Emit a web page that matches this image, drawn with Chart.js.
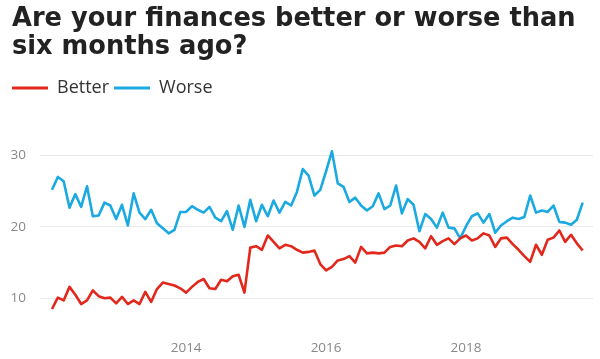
<!DOCTYPE html>
<html>
<head>
<meta charset="utf-8">
<script src="https://cdn.jsdelivr.net/npm/chart.js@4/dist/chart.umd.min.js"></script>
<style>
  html, body { margin: 0; padding: 0; background: #fff; }
  #wrap { position: relative; width: 600px; height: 359px; overflow: hidden; }
  #title {
    position: absolute; left: 12px; top: 3px; margin: 0;
    font-family: "DejaVu Sans", sans-serif; font-weight: bold;
    font-size: 25.7px; line-height: 28px; color: #222; white-space: nowrap;
  }
  #c { position: absolute; left: 0; top: 0; }
</style>
</head>
<body>
<div id="wrap">
  <canvas id="c" width="600" height="359"></canvas>
  <h1 id="title">Are your finances better or worse than<br>six months ago?</h1>
</div>
<script>
const months = [
  "2012-02","2012-03","2012-04","2012-05","2012-06","2012-07","2012-08","2012-09","2012-10","2012-11","2012-12",
  "2013-01","2013-02","2013-03","2013-04","2013-05","2013-06","2013-07","2013-08","2013-09","2013-10","2013-11","2013-12",
  "2014-01","2014-02","2014-03","2014-04","2014-05","2014-06","2014-07","2014-08","2014-09","2014-10","2014-11","2014-12",
  "2015-01","2015-02","2015-03","2015-04","2015-05","2015-06","2015-07","2015-08","2015-09","2015-10","2015-11","2015-12",
  "2016-01","2016-02","2016-03","2016-04","2016-05","2016-06","2016-07","2016-08","2016-09","2016-10","2016-11","2016-12",
  "2017-01","2017-02","2017-03","2017-04","2017-05","2017-06","2017-07","2017-08","2017-09","2017-10","2017-11","2017-12",
  "2018-01","2018-02","2018-03","2018-04","2018-05","2018-06","2018-07","2018-08","2018-09","2018-10","2018-11","2018-12",
  "2019-01","2019-02","2019-03","2019-04","2019-05","2019-06","2019-07","2019-08","2019-09"
];

const better = [
  8.5,10.1,9.7,11.6,10.5,9.2,9.7,11.1,10.3,10.0,10.1,
  9.3,10.2,9.2,9.7,9.2,10.9,9.5,11.3,12.2,12.0,11.8,11.4,
  10.8,11.6,12.3,12.7,11.4,11.3,12.6,12.4,13.1,13.3,10.8,17.1,
  17.3,16.8,18.8,17.9,17.0,17.5,17.3,16.8,16.4,16.5,16.7,14.8,
  13.9,14.4,15.3,15.5,15.9,15.0,17.2,16.3,16.4,16.3,16.4,17.2,
  17.4,17.3,18.1,18.4,17.9,17.0,18.7,17.5,18.0,18.4,17.6,18.4,
  18.8,18.1,18.4,19.1,18.8,17.2,18.4,18.5,17.6,16.8,15.9,15.1,
  17.5,16.1,18.2,18.5,19.5,17.9,18.9,17.7,16.7
];

const worse = [
  25.2,27.0,26.4,22.7,24.6,22.8,25.7,21.5,21.6,23.4,23.0,
  21.1,23.1,20.2,24.7,22.0,21.1,22.4,20.5,19.8,19.1,19.6,22.1,
  22.1,22.9,22.4,22.0,22.8,21.3,20.8,22.2,19.6,23.0,20.0,23.8,
  20.8,23.1,21.5,23.7,22.0,23.5,23.0,24.9,28.1,27.2,24.4,25.2,
  27.8,30.6,26.1,25.6,23.5,24.1,23.0,22.3,22.9,24.7,22.5,23.0,
  25.8,21.9,23.9,23.1,19.4,21.8,21.1,19.9,22.0,19.9,19.8,18.4,
  20.1,21.5,21.9,20.6,21.8,19.2,20.2,20.8,21.3,21.1,21.4,24.4,
  22.0,22.3,22.1,23.0,20.7,20.6,20.3,21.0,23.4
];

const yTicks = [10, 20, 30];
const xTickMonths = ["2014-01", "2016-01", "2018-01"];

const RED = "#e2281c";
const BLUE = "#1ba9e1";

const toPoints = arr => arr.map((v, i) => ({ x: i, y: v }));

new Chart(document.getElementById("c"), {
  type: "line",
  data: {
    datasets: [
      { label: "Better", data: toPoints(better), borderColor: RED, backgroundColor: RED,
        borderWidth: 2.6, pointRadius: 0, tension: 0, borderJoinStyle: "round" },
      { label: "Worse", data: toPoints(worse), borderColor: BLUE, backgroundColor: BLUE,
        borderWidth: 2.6, pointRadius: 0, tension: 0, borderJoinStyle: "round" }
    ]
  },
  options: {
    responsive: false,
    animation: false,
    layout: { padding: { top: 74, left: 7, right: 7, bottom: 0 } },
    plugins: {
      title: { display: false },
      tooltip: { enabled: false },
      legend: {
        display: true,
        position: "top",
        align: "start",
        labels: {
          boxWidth: 36,
          boxHeight: 3,
          padding: 5,
          color: "#333",
          font: { family: "'Open Sans', sans-serif", size: 18 },
          generateLabels: chart => chart.data.datasets.map((ds, i) => ({
            text: ds.label, fillStyle: ds.borderColor, strokeStyle: ds.borderColor,
            lineWidth: 0, hidden: false, datasetIndex: i, fontColor: "#333"
          }))
        }
      }
    },
    scales: {
      x: {
        type: "linear",
        min: -2.06,
        max: 92.77,
        grid: { display: false, drawTicks: false },
        border: { display: false },
        afterBuildTicks: s => { s.ticks = xTickMonths.map(m => ({ value: months.indexOf(m) })); },
        afterFit: s => { s.height = 25; },
        ticks: {
          padding: 6,
          color: "#888",
          font: { family: "'Open Sans', sans-serif", size: 13.5 },
          maxRotation: 0,
          autoSkip: false,
          callback: v => months[Math.round(v)].slice(0, 4)
        }
      },
      y: {
        min: 5.0,
        max: 36.8,
        grid: { color: "#e9e9e9", lineWidth: 1, drawTicks: false },
        border: { display: false },
        afterBuildTicks: s => { s.ticks = yTicks.map(v => ({ value: v })); },
        afterFit: s => { s.width = 33; },
        ticks: {
          padding: 14,
          color: "#888",
          font: { family: "'Open Sans', sans-serif", size: 13.5 }
        }
      }
    }
  }
});
</script>
</body>
</html>
